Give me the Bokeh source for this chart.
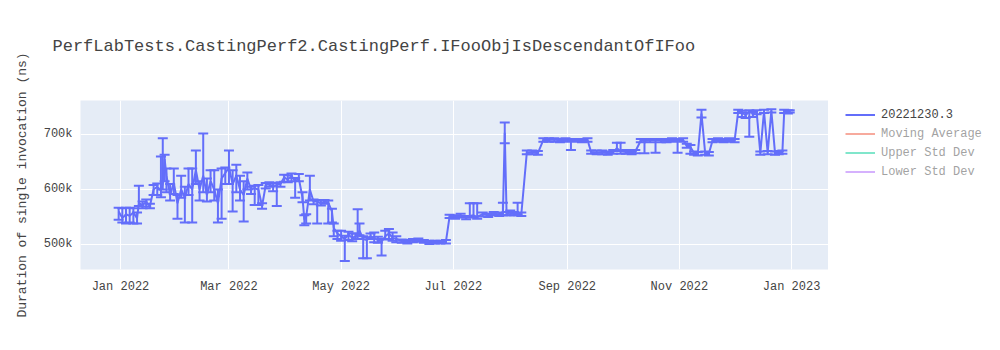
import pandas as pd
from bokeh.plotting import figure
from bokeh.layouts import row
from bokeh.models import (ColumnDataSource, Whisker, TeeHead, Range1d, FixedTicker, Title,
                          NumeralTickFormatter, DatetimeTickFormatter, Legend, LegendItem)
from bokeh.embed import file_html
from bokeh.resources import INLINE

title_text = "PerfLabTests.CastingPerf2.CastingPerf.IFooObjIsDescendantOfIFoo"
y_label = "Duration of single invocation (ns)"
series_name = "20221230.3"
hidden_names = ["Moving Average", "Upper Std Dev", "Lower Std Dev"]
hidden_colors = ["#EF553B", "#00cc96", "#ab63fa"]
series_color = "#636efa"

# days since 2022-01-01
days = [-1, 1, 3, 5, 7, 9, 10, 12, 14, 16, 18, 20, 22, 23, 24, 25, 27, 29, 31, 33,
        35, 37, 39, 41, 43, 45, 47, 49, 51, 53, 55, 57, 59, 61, 63, 65, 67, 69, 71, 73,
        75, 77, 79, 81, 83, 85, 87, 89, 91, 93, 95, 97, 99, 100, 101, 103, 105, 107, 109, 111,
        113, 115, 116, 118, 120, 122, 124, 126, 128, 129, 130, 132, 134, 136, 138, 140, 142, 144, 146, 148,
        150, 153, 156, 159, 162, 165, 168, 171, 174, 177, 179, 182, 185, 188, 190, 192, 194, 197, 200, 203,
        206, 208, 209, 210, 212, 214, 216, 218, 221, 224, 227, 230, 233, 236, 239, 242, 245, 248, 251, 254,
        256, 259, 262, 265, 268, 270, 272, 275, 278, 280, 283, 285, 288, 291, 294, 297, 300, 303, 306, 308,
        310, 312, 314, 316, 318, 320, 322, 325, 328, 331, 334, 336, 338, 340, 342, 344, 346, 348, 350, 352,
        354, 356, 358, 360, 361, 363, 364]
# duration in thousands of ns
values_k = [560, 548, 555, 552, 558, 548, 575, 572, 577, 570, 600, 605, 598, 610, 655, 625, 590, 612, 575, 600,
            585, 610, 600, 635, 600, 625, 590, 615, 600, 575, 620, 630, 640, 610, 625, 600, 590, 620, 600, 602,
            600, 570, 608, 610, 605, 608, 610, 622, 618, 625, 615, 620, 585, 545, 550, 600, 578, 578, 575, 578,
            576, 560, 530, 520, 515, 510, 518, 512, 515, 520, 525, 510, 508, 515, 512, 508, 505, 515, 520, 512,
            510, 506, 505, 507, 508, 505, 504, 505, 504, 505, 551, 550, 552, 549, 552, 553, 550, 555, 553, 556,
            555, 556, 703, 556, 558, 556, 556, 555, 667, 668, 666, 690, 690, 691, 689, 690, 688, 690, 689, 690,
            668, 667, 668, 666, 668, 675, 670, 668, 667, 669, 689, 688, 689, 690, 689, 689, 690, 689, 690, 680,
            677, 666, 665, 738, 666, 665, 689, 690, 689, 690, 689, 742, 740, 735, 742, 738, 741, 666, 742, 667,
            743, 666, 667, 668, 742, 741, 742]
err_up_k = [7, 18, 12, 15, 8, 10, 32, 6, 5, 4, 8, 6, 62, 83, 8, 13, 20, 26, 15, 25,
            20, 28, 38, 36, 15, 77, 30, 20, 35, 25, 18, 10, 31, 25, 20, 25, 25, 11, 5, 5,
            8, 5, 4, 3, 6, 4, 3, 5, 8, 4, 6, 8, 10, 8, 5, 25, 4, 3, 5, 3,
            4, 5, 8, 5, 10, 6, 5, 8, 5, 44, 13, 5, 5, 5, 10, 6, 5, 10, 8, 10,
            5, 3, 3, 3, 3, 3, 3, 2, 3, 3, 3, 3, 4, 3, 23, 22, 25, 3, 3, 3,
            3, 20, 19, 3, 4, 3, 20, 3, 4, 3, 4, 3, 3, 2, 3, 3, 4, 2, 3, 3,
            3, 4, 3, 3, 4, 10, 15, 4, 3, 3, 3, 3, 3, 2, 3, 3, 3, 3, 3, 3,
            4, 3, 3, 7, 3, 3, 3, 3, 3, 3, 3, 3, 3, 5, 2, 4, 3, 3, 3, 3,
            3, 3, 3, 3, 3, 3, 2]
err_dn_k = [15, 8, 17, 12, 20, 10, 5, 6, 8, 4, 10, 15, 12, 10, 40, 30, 10, 20, 28, 15,
            45, 20, 60, 25, 20, 30, 12, 20, 20, 35, 73, 20, 30, 50, 30, 20, 48, 20, 8, 30,
            28, 5, 6, 5, 8, 38, 5, 8, 5, 10, 30, 5, 8, 10, 12, 20, 5, 40, 4, 4,
            38, 20, 15, 10, 8, 40, 10, 6, 5, 10, 8, 35, 33, 5, 8, 5, 25, 6, 10, 5,
            6, 3, 3, 3, 3, 2, 3, 3, 2, 3, 3, 3, 3, 3, 3, 3, 3, 4, 3, 3,
            3, 3, 19, 3, 5, 3, 3, 3, 3, 4, 3, 3, 3, 4, 3, 3, 16, 3, 3, 3,
            3, 3, 4, 3, 3, 5, 5, 3, 3, 3, 3, 22, 3, 23, 3, 3, 3, 22, 3, 4,
            12, 3, 3, 7, 3, 3, 3, 3, 3, 3, 3, 3, 8, 5, 46, 6, 4, 3, 3, 3,
            3, 3, 3, 3, 3, 3, 2]

y_ticks = [500000, 600000, 700000]
x_tick_dates = ["2022-01-01", "2022-03-01", "2022-05-01", "2022-07-01",
                "2022-09-01", "2022-11-01", "2023-01-01"]

base = pd.Timestamp("2022-01-01")
dates = [base + pd.Timedelta(days=d) for d in days]
vals = [v * 1000 for v in values_k]
upper = [v + u for v, u in zip(vals, [e * 1000 for e in err_up_k])]
lower = [v - l for v, l in zip(vals, [e * 1000 for e in err_dn_k])]
src = ColumnDataSource(dict(x=dates, y=vals, upper=upper, lower=lower))

FONT = "Liberation Mono"
TXT = "#444444"

p = figure(width=828, height=350, x_axis_type="datetime",
           output_backend="svg", toolbar_location=None,
           x_range=Range1d(pd.Timestamp("2021-12-10 06:00"), pd.Timestamp("2023-01-21 02:00")),
           y_range=Range1d(454500, 761800),
           min_border_left=80, min_border_right=0, min_border_top=100, min_border_bottom=81)

p.background_fill_color = "#e5ecf6"
p.border_fill_color = "white"
p.outline_line_color = None

p.title.text = title_text
p.title.text_font = FONT
p.title.text_font_size = "17px"
p.title.text_font_style = "normal"
p.title.text_color = TXT
p.title.align = "left"
p.title.offset = -28
p.title.standoff = 0

# empty spacer panel between the title and the plot frame
p.add_layout(Title(text=" ", text_font_size="10px", standoff=32), "above")

whisk = Whisker(base="x", upper="upper", lower="lower", source=src,
                line_color=series_color, line_width=2,
                upper_head=TeeHead(size=10, line_color=series_color, line_width=2),
                lower_head=TeeHead(size=10, line_color=series_color, line_width=2))
p.add_layout(whisk)
p.line("x", "y", source=src, line_color=series_color, line_width=2)

p.xaxis.ticker = FixedTicker(ticks=[pd.Timestamp(t).value // 10**6 for t in x_tick_dates])
p.xaxis.formatter = DatetimeTickFormatter(years="%b %Y", months="%b %Y", days="%b %Y",
                                          hours="%b %Y", hourmin="%b %Y")
p.yaxis.ticker = FixedTicker(ticks=y_ticks)
p.yaxis.formatter = NumeralTickFormatter(format="0a")

for ax in (p.xaxis, p.yaxis):
    ax.axis_line_color = None
    ax.major_tick_line_color = None
    ax.minor_tick_line_color = None
    ax.major_label_text_font = FONT
    ax.major_label_text_font_size = "12px"
    ax.major_label_text_color = TXT
p.xaxis.major_label_standoff = 4
p.yaxis.major_label_standoff = 2

p.yaxis.axis_label = y_label
p.yaxis.axis_label_text_font = FONT
p.yaxis.axis_label_text_font_size = "13px"
p.yaxis.axis_label_text_font_style = "normal"
p.yaxis.axis_label_text_color = TXT
p.yaxis.axis_label_standoff = 11

p.xgrid.grid_line_color = "white"
p.ygrid.grid_line_color = "white"
p.xgrid.grid_line_width = 1
p.ygrid.grid_line_width = 1

# legend panel (separate figure; its frame is aligned with the main frame)
lg = figure(width=172, height=350, output_backend="svg", toolbar_location=None,
            x_axis_location=None, y_axis_location=None,
            x_range=Range1d(0, 1), y_range=Range1d(0, 1),
            min_border_left=0, min_border_right=0, min_border_top=0, min_border_bottom=0)
lg.grid.visible = False
lg.outline_line_color = None
lg.background_fill_color = "white"
lg.border_fill_color = "white"

items = []
r0 = lg.line("x", "y", source=src, line_color=series_color, line_width=2)
items.append(LegendItem(label=series_name, renderers=[r0]))
for nm, col in zip(hidden_names, hidden_colors):
    r = lg.line("x", "y", source=src, line_color=col, line_width=2, visible=False)
    items.append(LegendItem(label=nm, renderers=[r]))

legend = Legend(items=items, location=(17, 88), padding=0, margin=0, spacing=0,
                label_height=19, glyph_height=19, glyph_width=30, label_standoff=6,
                label_text_font=FONT, label_text_font_size="12px", label_text_color=TXT,
                background_fill_alpha=0, border_line_color=None, click_policy="hide",
                inactive_fill_color="white", inactive_fill_alpha=0.5)
lg.add_layout(legend)

layout = row(p, lg, spacing=0)
open("out.html", "w").write(file_html(layout, INLINE))
